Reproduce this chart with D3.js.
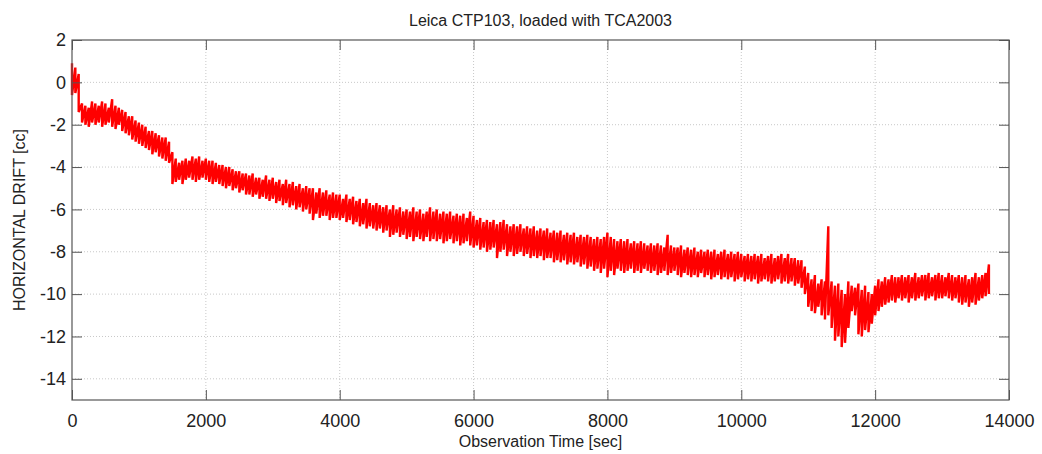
<!DOCTYPE html>
<html>
<head>
<meta charset="utf-8">
<script src="https://cdn.jsdelivr.net/npm/d3@7"></script>
<style>
  body { margin: 0; background: #fff; }
  text { font-family: "Liberation Sans", Arial, sans-serif; fill: #222; }
</style>
</head>
<body>
<script>
let w = 1042;
let h = 454;

let margin = { left: 72, right: 33, top: 40, bottom: 54 };

let title = "Leica CTP103, loaded with TCA2003";
let xLabel = "Observation Time [sec]";
let yLabel = "HORIZONTAL DRIFT [cc]";

let xTicks = [0, 2000, 4000, 6000, 8000, 10000, 12000, 14000];
let yTicks = [2, 0, -2, -4, -6, -8, -10, -12, -14];

// the signal is very noisy: for every 50 s bin the highest and lowest
// reading (one row = 500 s)
let binSec = 50;
let driftHigh = [
  0.9, 0.7, 0.4, -1.0, -1.1, -1.2, -0.9, -1.0, -1.1, -0.9,
  -1.0, -1.2, -0.8, -1.1, -1.2, -1.3, -1.4, -1.6, -1.6, -1.8,
  -1.9, -2.0, -2.1, -2.3, -2.3, -2.4, -2.5, -2.6, -2.6, -2.8,
  -3.3, -3.6, -3.8, -3.7, -3.6, -3.7, -3.5, -3.6, -3.5, -3.7,
  -3.6, -3.7, -3.7, -3.8, -3.9, -3.9, -4.0, -4.0, -4.1, -4.2,
  -4.2, -4.3, -4.3, -4.4, -4.3, -4.5, -4.5, -4.6, -4.4, -4.6,
  -4.5, -4.7, -4.6, -4.8, -4.6, -4.8, -4.7, -4.9, -4.8, -5.0,
  -4.9, -5.0, -5.0, -5.2, -5.0, -5.2, -5.1, -5.3, -5.2, -5.3,
  -5.3, -5.5, -5.3, -5.5, -5.4, -5.6, -5.5, -5.7, -5.5, -5.7,
  -5.8, -5.7, -5.8, -5.9, -5.8, -6.0, -5.8, -6.0, -5.9, -6.1,
  -6.0, -6.1, -5.9, -6.1, -6.0, -6.2, -6.1, -5.9, -6.1, -6.0,
  -6.2, -6.1, -6.2, -6.1, -6.3, -6.2, -6.3, -6.2, -6.4, -6.1,
  -6.3, -6.5, -6.4, -6.6, -6.5, -6.6, -6.5, -6.7, -6.6, -6.5,
  -6.7, -6.8, -6.7, -6.8, -6.7, -6.9, -6.8, -6.9, -6.8, -7.0,
  -6.9, -7.0, -6.9, -7.1, -7.0, -7.1, -7.0, -7.2, -7.1, -7.2,
  -7.1, -7.3, -7.2, -7.3, -7.2, -7.3, -7.4, -7.3, -7.4, -7.3,
  -7.1, -7.3, -7.4, -7.5, -7.4, -7.5, -7.4, -7.6, -7.5, -7.6,
  -7.5, -7.6, -7.7, -7.6, -7.7, -7.6, -7.7, -7.8, -7.2, -7.7,
  -7.8, -7.8, -7.7, -7.9, -7.8, -7.9, -7.8, -8.0, -7.9, -8.0,
  -7.9, -8.0, -7.9, -8.1, -8.0, -7.9, -8.1, -8.0, -8.1, -8.0,
  -8.1, -8.2, -8.1, -8.2, -8.1, -8.2, -8.1, -8.3, -8.2, -8.1,
  -8.3, -8.2, -8.1, -8.3, -8.1, -8.3, -8.3, -8.4, -8.4, -8.7,
  -9.0, -9.3, -9.1, -9.5, -9.3, -9.4, -6.8, -9.4, -9.6, -9.5,
  -9.8, -10.0, -9.4, -9.6, -9.7, -9.5, -9.8, -9.6, -9.9, -10.0,
  -9.6, -9.3, -9.4, -9.2, -9.3, -9.1, -9.2, -9.2, -9.1, -9.2,
  -9.1, -9.2, -9.0, -9.2, -9.1, -9.1, -9.0, -9.2, -9.1, -9.0,
  -9.1, -9.2, -9.0, -9.1, -9.2, -9.1, -9.2, -9.1, -9.3, -9.2,
  -9.0, -9.2, -9.1, -9.0, -8.6
];
let driftLow = [
  -0.6, -0.5, -1.4, -1.9, -2.0, -2.1, -1.9, -2.0, -1.9, -2.1,
  -2.0, -1.9, -2.1, -2.2, -2.0, -2.3, -2.4, -2.5, -2.7, -2.8,
  -2.9, -3.0, -3.1, -3.2, -3.4, -3.3, -3.5, -3.6, -3.7, -3.8,
  -4.8, -4.7, -4.6, -4.8, -4.6, -4.5, -4.6, -4.7, -4.6, -4.5,
  -4.6, -4.7, -4.8, -4.7, -4.8, -4.9, -5.0, -4.9, -5.1, -5.0,
  -5.2, -5.1, -5.3, -5.3, -5.4, -5.3, -5.5, -5.4, -5.5, -5.6,
  -5.5, -5.7, -5.6, -5.8, -5.7, -5.9, -5.8, -6.0, -5.9, -6.1,
  -6.0, -6.2, -6.5, -6.2, -6.4, -6.3, -6.3, -6.5, -6.4, -6.4,
  -6.5, -6.4, -6.6, -6.5, -6.7, -6.6, -6.8, -6.7, -6.9, -6.8,
  -6.9, -7.0, -6.9, -7.1, -7.0, -7.3, -7.2, -7.1, -7.3, -7.2,
  -7.4, -7.3, -7.5, -7.3, -7.4, -7.5, -7.3, -7.5, -7.4, -7.5,
  -7.4, -7.6, -7.5, -7.4, -7.6, -7.5, -7.7, -7.6, -7.5, -7.7,
  -7.8, -7.7, -7.9, -7.8, -8.0, -7.9, -7.8, -8.3, -8.0, -7.9,
  -8.2, -8.0, -8.2, -8.1, -8.0, -8.2, -8.1, -8.3, -8.2, -8.3,
  -8.2, -8.4, -8.3, -8.3, -8.5, -8.4, -8.5, -8.4, -8.6, -8.5,
  -8.6, -8.5, -8.7, -8.6, -8.8, -8.7, -8.9, -8.8, -9.0, -8.8,
  -9.2, -8.9, -9.1, -8.8, -8.9, -9.0, -8.9, -8.8, -9.0, -8.9,
  -9.0, -8.8, -8.9, -9.0, -8.9, -9.1, -9.0, -8.9, -9.1, -9.0,
  -8.9, -9.1, -9.2, -9.0, -9.1, -9.2, -9.1, -9.2, -9.0, -9.2,
  -9.1, -9.3, -9.2, -9.1, -9.3, -9.2, -9.3, -9.2, -9.4, -9.3,
  -9.2, -9.4, -9.3, -9.4, -9.3, -9.5, -9.4, -9.3, -9.4, -9.5,
  -9.4, -9.3, -9.5, -9.4, -9.5, -9.4, -9.6, -9.5, -9.7, -10.0,
  -10.6, -10.8, -10.9, -10.6, -11.0, -11.2, -11.0, -11.6, -12.2, -12.0,
  -12.5, -12.3, -11.6, -10.8, -11.0, -11.9, -12.0, -11.7, -11.8, -11.4,
  -11.0, -10.8, -10.6, -10.5, -10.4, -10.3, -10.4, -10.2, -10.3, -10.2,
  -10.4, -10.2, -10.3, -10.2, -10.1, -10.3, -10.2, -10.1, -10.3, -10.2,
  -10.2, -10.1, -10.2, -10.3, -10.2, -10.4, -10.5, -10.4, -10.6, -10.4,
  -10.5, -10.3, -10.2, -10.1, -10.0
];

let svg = d3.select("body").append("svg").attr("width", w).attr("height", h);

let x = d3.scaleLinear().domain([0, 14000]).range([margin.left, w - margin.right]);
let y = d3.scaleLinear().domain([-15, 2]).range([h - margin.bottom, margin.top]);

let x0 = x.range()[0], x1 = x.range()[1];
let y0 = y.range()[0], y1 = y.range()[1];

// dotted grid
let grid = svg.append("g").attr("stroke", "#c8c8c8").attr("stroke-dasharray", "1,2").attr("stroke-width", 1);
grid.selectAll("line.gx")
  .data(xTicks.slice(1, -1))
  .enter()
  .append("line")
  .attr("x1", (d) => x(d)).attr("x2", (d) => x(d))
  .attr("y1", y1).attr("y2", y0);
grid.selectAll("line.gy")
  .data(yTicks.slice(1))
  .enter()
  .append("line")
  .attr("x1", x0).attr("x2", x1)
  .attr("y1", (d) => y(d)).attr("y2", (d) => y(d));

// trace: high then low of each bin, like a plot of the dense raw series
let pts = [];
driftHigh.forEach((hi, i) => {
  pts.push([i * binSec, hi]);
  pts.push([i * binSec, driftLow[i]]);
});
let line = d3.line()
  .x((d) => x(d[0]))
  .y((d) => y(d[1]));
svg.append("path")
  .datum(pts)
  .attr("d", line)
  .attr("fill", "none")
  .attr("stroke", "#ff0000")
  .attr("stroke-width", 2.4)
  .attr("stroke-linejoin", "miter");

// axes, ticks pointing inward on all four sides
let tickLen = 10;
let axisColor = "#555";
svg.append("g").attr("transform", `translate(0,${y0})`)
  .call(d3.axisBottom(x).tickValues(xTicks).tickSize(-tickLen).tickPadding(14).tickFormat(d3.format("d")));
svg.append("g").attr("transform", `translate(0,${y1})`)
  .call(d3.axisTop(x).tickValues(xTicks).tickSize(-tickLen).tickFormat(""));
svg.append("g").attr("transform", `translate(${x0},0)`)
  .call(d3.axisLeft(y).tickValues(yTicks).tickSize(-tickLen).tickPadding(6).tickFormat((d) => d));
svg.append("g").attr("transform", `translate(${x1},0)`)
  .call(d3.axisRight(y).tickValues(yTicks).tickSize(-tickLen).tickFormat(""));

svg.selectAll(".domain").remove();
svg.selectAll(".tick line").attr("stroke", axisColor);
svg.selectAll(".tick text")
  .style("font-family", "'Liberation Sans', Arial, sans-serif")
  .style("font-size", "18px")
  .attr("fill", "#222");

svg.append("rect")
  .attr("x", x0).attr("y", y1)
  .attr("width", x1 - x0).attr("height", y0 - y1)
  .attr("fill", "none")
  .attr("stroke", axisColor)
  .attr("stroke-width", 1.2);

// labels
svg.append("text")
  .attr("x", (x0 + x1) / 2).attr("y", 26)
  .attr("text-anchor", "middle")
  .style("font-size", "16px")
  .text(title);
svg.append("text")
  .attr("x", (x0 + x1) / 2).attr("y", 447)
  .attr("text-anchor", "middle")
  .style("font-size", "16px")
  .text(xLabel);
svg.append("text")
  .attr("transform", `translate(25,${(y0 + y1) / 2}) rotate(-90)`)
  .attr("text-anchor", "middle")
  .style("font-size", "16px")
  .text(yLabel);
</script>
</body>
</html>
